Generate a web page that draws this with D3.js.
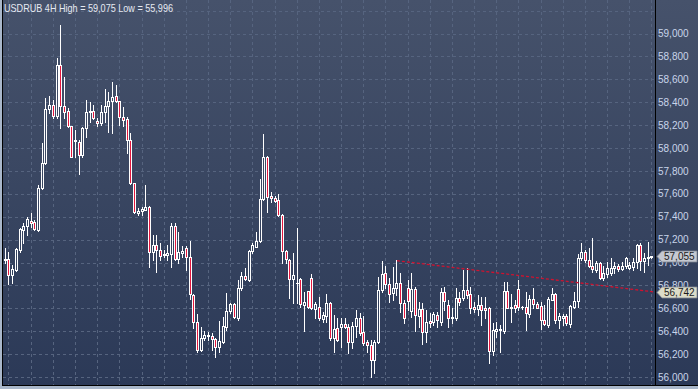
<!DOCTYPE html>
<html>
<head>
<meta charset="utf-8">
<script src="https://cdn.jsdelivr.net/npm/d3@7/dist/d3.min.js"></script>
<style>
  html, body { margin: 0; padding: 0; background: #2e3c58; }
  svg { display: block; }
  text { font-family: "Liberation Sans", Arial, sans-serif; }
</style>
</head>
<body>
<div id="chart"></div>
<script>
// USDRUB 4H candles
const symbol = 'USDRUB 4H';

const open = [
  57030, 57022, 57031, 56891, 56935, 57110, 57284, 57322, 57366, 57357,
  57284, 57648, 57866, 58338, 58376, 58280, 58725, 58367, 58326, 58192,
  58061, 58055, 57939, 58172, 58312, 58326, 58239, 58216, 58317, 58367,
  58408, 58454, 58413, 58268, 58251, 58070, 57692, 57436, 57453, 57459,
  57488, 57095, 57153, 57110, 57066, 57066, 57075, 57322, 57028, 57087,
  57130, 57052, 56717, 56484, 56236, 56338, 56361, 56359, 56330, 56260,
  56309, 56440, 56580, 56635, 56519, 56775, 56883, 56848, 57101, 57139,
  57188, 57552, 57919, 57581, 57561, 57546, 57415, 57101, 57022, 56854,
  56819, 56854, 56629, 56755, 56862, 56592, 56615, 56507, 56533, 56650,
  56338, 56426, 56440, 56463, 56440, 56303, 56446, 56513, 56390, 56309,
  56280, 56149, 56303, 56760, 56906, 56810, 56731, 56775, 56818, 56644,
  56775, 56577, 56766, 56533, 56594, 56390, 56489, 56478, 56542, 56480,
  56740, 56629, 56513, 56513, 56687, 56687, 56760, 56722, 56614, 56594,
  56629, 56606, 56600, 56227, 56402, 56414, 56402, 56751, 56600, 56629,
  56769, 56612, 56612, 56548, 56678, 56635, 56620, 56498, 56454, 56673,
  56723, 56498, 56513, 56536, 56461, 56615, 56664, 57037, 57089, 57022,
  56973, 56935, 56993, 56862, 56897, 56906, 56950, 56973, 56941, 56967,
  56955, 56964, 57008, 57153, 57014, 57037, 57046
];
const high = [
  57057, 57124, 57089, 56978, 57124, 57299, 57342, 57400, 57430, 57371,
  57677, 58041, 58437, 58457, 58419, 58783, 59075, 58623, 58347, 58192,
  58157, 58070, 58186, 58419, 58405, 58376, 58259, 58376, 58513, 58492,
  58579, 58550, 58413, 58355, 58274, 58134, 57692, 57473, 57488, 57677,
  57494, 57240, 57240, 57168, 57110, 57153, 57342, 57342, 57270, 57145,
  57145, 57188, 56725, 56551, 56440, 56405, 56397, 56382, 56338, 56493,
  56527, 56731, 56650, 56644, 56848, 56920, 56950, 57110, 57174, 57270,
  57727, 58123, 57931, 57619, 57581, 57599, 57421, 57110, 57028, 57087,
  57299, 56862, 56746, 56755, 56900, 56659, 56702, 56571, 56725, 56659,
  56542, 56513, 56513, 56513, 56460, 56484, 56585, 56556, 56533, 56323,
  56323, 56323, 56876, 57013, 56973, 56862, 56964, 57022, 56906, 56673,
  56847, 56906, 56789, 56658, 56643, 56585, 56556, 56571, 56571, 56780,
  56790, 56673, 56600, 56780, 56745, 56935, 56949, 56789, 56658, 56716,
  56702, 56702, 56614, 56469, 56484, 56454, 56833, 56833, 56722, 56673,
  56847, 56623, 56745, 56716, 56775, 56652, 56658, 56629, 56702, 56775,
  56731, 56557, 56548, 56548, 56630, 56746, 57072, 57168, 57110, 57124,
  57217, 57014, 57002, 56973, 57002, 57043, 57008, 56984, 57002, 57051,
  57008, 57037, 57159, 57168, 57080, 57177, 57060
];
const low = [
  57007, 56993, 56812, 56818, 56929, 57095, 57168, 57240, 57313, 57284,
  57278, 57639, 57858, 58303, 58259, 58259, 58172, 58259, 58186, 57919,
  57924, 57770, 57919, 58099, 58230, 58251, 58192, 58201, 58230, 58143,
  58128, 58405, 58201, 58192, 57954, 57686, 57430, 57415, 57415, 57459,
  56964, 57022, 56920, 57022, 57051, 57022, 56964, 57022, 57000, 57046,
  56935, 56679, 56426, 56222, 56230, 56324, 56324, 56236, 56178, 56222,
  56295, 56411, 56562, 56513, 56498, 56760, 56848, 56842, 57087, 57133,
  57182, 57546, 57444, 57532, 57532, 57410, 56993, 56993, 56688, 56644,
  56650, 56615, 56405, 56600, 56592, 56513, 56498, 56484, 56484, 56324,
  56222, 56318, 56265, 56426, 56207, 56251, 56352, 56367, 56280, 56221,
  55996, 56038, 56294, 56745, 56775, 56658, 56673, 56716, 56571, 56469,
  56585, 56527, 56402, 56440, 56286, 56309, 56440, 56454, 56440, 56454,
  56585, 56440, 56469, 56498, 56629, 56673, 56687, 56556, 56571, 56542,
  56454, 56513, 56120, 56192, 56352, 56221, 56382, 56600, 56483, 56571,
  56585, 56594, 56411, 56527, 56606, 56600, 56420, 56454, 56440, 56673,
  56469, 56426, 56455, 56455, 56440, 56606, 56615, 57022, 57008, 56964,
  56920, 56920, 56856, 56848, 56877, 56891, 56906, 56926, 56935, 56950,
  56944, 56935, 56950, 56935, 56920, 56979, 57040
];
const close = [
  57025, 57031, 56891, 56941, 57115, 57290, 57322, 57377, 57348, 57290,
  57648, 57866, 58338, 58376, 58280, 58725, 58370, 58317, 58192, 57924,
  58070, 57939, 58172, 58312, 58326, 58259, 58216, 58317, 58367, 58408,
  58443, 58413, 58274, 58245, 58070, 57692, 57444, 57453, 57464, 57482,
  57095, 57153, 57110, 57060, 57075, 57080, 57322, 57028, 57095, 57098,
  57052, 56725, 56484, 56236, 56338, 56367, 56364, 56330, 56260, 56318,
  56446, 56577, 56635, 56522, 56775, 56883, 56854, 57101, 57153, 57188,
  57552, 57919, 57575, 57561, 57541, 57415, 57101, 57028, 56854, 56891,
  56822, 56635, 56653, 56615, 56600, 56635, 56513, 56542, 56650, 56338,
  56417, 56324, 56463, 56440, 56303, 56446, 56518, 56382, 56300, 56280,
  56149, 56303, 56760, 56897, 56810, 56722, 56775, 56818, 56644, 56513,
  56664, 56766, 56542, 56591, 56390, 56483, 56469, 56548, 56498, 56740,
  56660, 56513, 56527, 56687, 56658, 56760, 56716, 56606, 56591, 56629,
  56585, 56585, 56227, 56411, 56417, 56417, 56751, 56606, 56614, 56606,
  56614, 56614, 56556, 56678, 56635, 56606, 56498, 56460, 56678, 56722,
  56498, 56536, 56536, 56469, 56624, 56664, 57043, 57089, 57022, 56973,
  56941, 56993, 56862, 56906, 56950, 56955, 56973, 56941, 56973, 57037,
  56979, 57008, 57153, 57014, 57043, 57051, 57055
];

const priceTicks = d3.range(56000, 59001, 200);
const gridPrices = d3.range(56000, 59201, 200);
const bidPrice = 57055;
// trend line through two highs: candle number, price
const trendLine = [{i: 108, price: 57016}, {i: 177.8, price: 56742}];

const width = 698, height = 389;
const plot = {left: 3, right: 655, top: 0, bottom: 385};
const fmt = d3.format(',');

const x = d3.scaleLinear().domain([1, close.length]).range([1.6, 651.9]);
const y = d3.scaleLinear().domain([56000, 59000]).range([377, 33.5]);

const svg = d3.select('#chart').append('svg')
  .attr('width', width)
  .attr('height', height);

const defs = svg.append('defs');
const grad = defs.append('linearGradient')
  .attr('id', 'bg')
  .attr('gradientUnits', 'userSpaceOnUse')
  .attr('x1', 0).attr('y1', 0).attr('x2', 0).attr('y2', height);
grad.append('stop').attr('offset', '0%').attr('stop-color', '#46526b');
grad.append('stop').attr('offset', '100%').attr('stop-color', '#2b3957');

defs.append('clipPath').attr('id', 'plotClip')
  .append('rect')
  .attr('x', plot.left).attr('y', plot.top)
  .attr('width', plot.right - plot.left).attr('height', plot.bottom - plot.top);

svg.append('rect')
  .attr('width', width).attr('height', height)
  .attr('fill', 'url(#bg)');

// grid
const grid = svg.append('g')
  .attr('stroke', '#56647f')
  .attr('stroke-dasharray', '3,3')
  .attr('shape-rendering', 'crispEdges');

grid.selectAll('.hgrid')
  .data(gridPrices)
  .enter().append('line')
  .attr('x1', plot.left).attr('x2', plot.right)
  .attr('y1', d => Math.round(y(d)) + 0.5)
  .attr('y2', d => Math.round(y(d)) + 0.5);

const dayIdx = d3.range(3, close.length + 1, 6);
grid.selectAll('.vgrid')
  .data(dayIdx)
  .enter().append('line')
  .attr('y1', plot.top).attr('y2', plot.bottom)
  .attr('x1', d => Math.floor(x(d)) + 0.5)
  .attr('x2', d => Math.floor(x(d)) + 0.5);

// candles
const candles = close.map((c, i) => ({i: i + 1, o: open[i], h: high[i], l: low[i], c: c}));

const cg = svg.append('g')
  .attr('clip-path', 'url(#plotClip)')
  .attr('shape-rendering', 'crispEdges');

cg.selectAll('.wick')
  .data(candles)
  .enter().append('line')
  .attr('stroke', '#ffffff')
  .attr('x1', d => Math.floor(x(d.i)) + 0.5)
  .attr('x2', d => Math.floor(x(d.i)) + 0.5)
  .attr('y1', d => Math.round(y(d.h)))
  .attr('y2', d => Math.round(y(d.l)) + 1);

const bodyTop = d => Math.round(y(Math.max(d.o, d.c)));
const bodyBot = d => Math.round(y(Math.min(d.o, d.c)));

cg.selectAll('.body')
  .data(candles)
  .enter().append('rect')
  .attr('fill', '#ffffff')
  .attr('x', d => Math.floor(x(d.i)) - 1)
  .attr('width', 3)
  .attr('y', bodyTop)
  .attr('height', d => bodyBot(d) - bodyTop(d) + 1);

cg.selectAll('.inner')
  .data(candles.filter(d => bodyBot(d) - bodyTop(d) >= 2))
  .enter().append('rect')
  .attr('fill', d => d.c < d.o ? '#e3173e' : 'url(#bg)')
  .attr('x', d => Math.floor(x(d.i)))
  .attr('width', 1)
  .attr('y', d => bodyTop(d) + 1)
  .attr('height', d => bodyBot(d) - bodyTop(d) - 1);

// trend line
svg.append('line')
  .attr('clip-path', 'url(#plotClip)')
  .attr('stroke', '#d0122f')
  .attr('stroke-width', 1.3)
  .attr('stroke-dasharray', '3,2')
  .attr('x1', x(trendLine[0].i)).attr('y1', y(trendLine[0].price))
  .attr('x2', x(trendLine[1].i)).attr('y2', y(trendLine[1].price));

// frame
svg.append('rect').attr('x', 0).attr('y', 0).attr('width', 2).attr('height', height).attr('fill', '#a9b7ca');
svg.append('rect').attr('x', 0).attr('y', 386).attr('width', width).attr('height', 3).attr('fill', '#a9b7ca');
const frame = svg.append('g').attr('stroke', '#000').attr('shape-rendering', 'crispEdges');
frame.append('line').attr('x1', 2.5).attr('x2', 2.5).attr('y1', 0).attr('y2', 386);
frame.append('line').attr('x1', 2).attr('x2', width).attr('y1', 385.5).attr('y2', 385.5);
frame.append('line').attr('x1', plot.right + 0.5).attr('x2', plot.right + 0.5).attr('y1', 0).attr('y2', 386);

// price axis labels
svg.append('g').selectAll('text')
  .data(priceTicks)
  .enter().append('text')
  .attr('x', 658)
  .attr('y', d => y(d))
  .attr('dy', '0.36em')
  .attr('font-size', 10)
  .attr('fill', '#c9d5ea')
  .text(d => fmt(d));

// price markers on the axis
function marker(price, fill) {
  const yc = Math.round(y(price)) + 0.5;
  const g = svg.append('g');
  g.append('path')
    .attr('d', `M657,${yc}L662,${yc - 5.5}H697V${yc + 5.5}H662Z`)
    .attr('fill', fill)
    .attr('stroke', '#7d8592')
    .attr('stroke-width', 0.8);
  g.append('text')
    .attr('x', 664).attr('y', yc)
    .attr('dy', '0.36em')
    .attr('font-size', 10)
    .attr('fill', '#1a1a1a')
    .text(fmt(price));
}
marker(bidPrice, '#c5c9d1');
marker(trendLine[1].price, '#dcdcc8');

// title
const title = svg.append('text')
  .attr('x', 4).attr('y', 12)
  .attr('font-size', 10.5)
  .attr('fill', '#e6eaf2')
  .text(`${symbol} High = ${fmt(d3.max(high))} Low = ${fmt(d3.min(low))}`);
title.attr('textLength', 169).attr('lengthAdjust', 'spacingAndGlyphs');
</script>
</body>
</html>
